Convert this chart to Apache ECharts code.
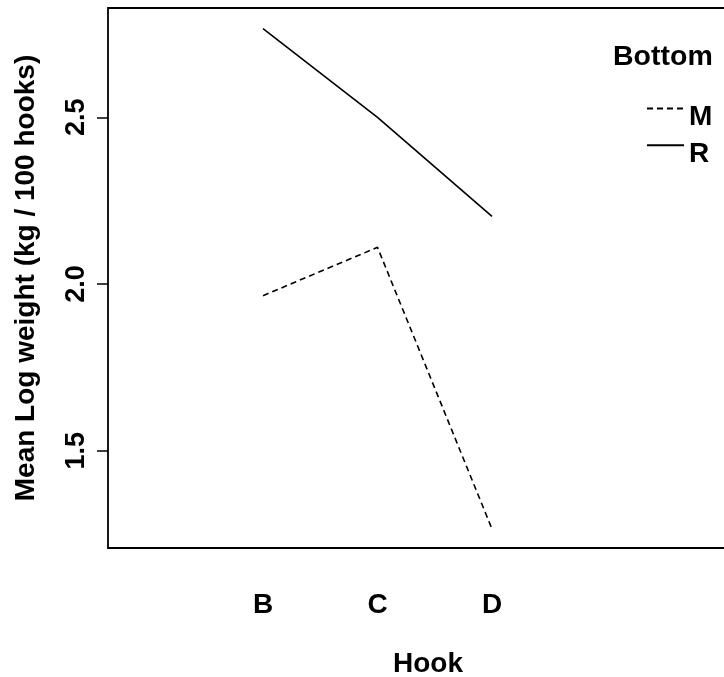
<!DOCTYPE html>
<html>
<head>
<meta charset="utf-8">
<script src="https://cdn.jsdelivr.net/npm/echarts@6/dist/echarts.min.js"></script>
<style>
  html, body { margin: 0; padding: 0; background: #fff; }
  #main { width: 724px; height: 677px; }
</style>
</head>
<body>
<div id="main"></div>
<script>
// data
var hooks = ['B', 'C', 'D'];
var bottomM = [1.965, 2.110, 1.265];
var bottomR = [2.766, 2.500, 2.203];
var yTicks = [1.5, 2.0, 2.5];
var xTicks = [1, 2, 3]; // positions of the hook levels

var font = 'Liberation Sans, Arial, Helvetica, sans-serif';

function toPoints(vals) {
  return vals.map(function (v, i) { return [xTicks[i], v]; });
}

var myChart = echarts.init(document.getElementById('main'));
myChart.setOption({
  animation: false,
  textStyle: { fontFamily: font, color: '#000' },
  title: {
    text: 'Bottom',
    left: 613,
    top: 43,
    padding: 0,
    textStyle: { fontFamily: font, fontSize: 28.5, fontWeight: 'bold', color: '#000' }
  },
  legend: {
    orient: 'vertical',
    left: 646,
    top: 103,
    padding: 0,
    itemWidth: 37,
    itemHeight: 14,
    itemGap: 8,
    data: ['M', 'R'],
    itemStyle: { opacity: 0 },
    formatter: '{t|{name}}',
    textStyle: {
      fontFamily: font, fontSize: 28, fontWeight: 'bold', color: '#000',
      rich: {
        t: { fontFamily: font, fontSize: 28, fontWeight: 'bold', color: '#000', padding: [18, 0, 0, 0] }
      }
    }
  },
  grid: {
    left: 108,
    top: 8,
    width: 640,
    height: 540,
    show: true,
    borderColor: '#000',
    borderWidth: 1.8,
    outerBoundsMode: 'none'
  },
  xAxis: {
    type: 'value',
    min: -0.354,
    max: 5.236,
    name: 'Hook',
    nameLocation: 'middle',
    nameGap: 102,
    nameTextStyle: { fontFamily: font, fontSize: 28, fontWeight: 'bold', color: '#000' },
    axisLine: { show: false, onZero: false },
    axisTick: { show: false },
    splitLine: { show: false },
    axisLabel: {
      customValues: xTicks,
      margin: 43,
      fontFamily: font, fontSize: 28, fontWeight: 'bold', color: '#000',
      formatter: function (v) { return hooks[Math.round(v) - 1] || ''; }
    }
  },
  yAxis: {
    type: 'value',
    min: 1.208,
    max: 2.828,
    name: 'Mean Log weight (kg / 100 hooks)',
    nameLocation: 'middle',
    nameGap: 68,
    nameMoveOverlap: false,
    nameTextStyle: { fontFamily: font, fontSize: 28, fontWeight: 'bold', color: '#000' },
    axisLine: { show: false, onZero: false },
    splitLine: { show: false },
    axisTick: {
      show: true,
      customValues: yTicks,
      length: 11,
      lineStyle: { color: '#000', width: 1.5 }
    },
    axisLabel: {
      customValues: yTicks,
      rotate: 90,
      margin: 18,
      fontFamily: font, fontSize: 27, fontWeight: 'bold', color: '#000',
      formatter: function (v) { return v.toFixed(1); }
    }
  },
  series: [{
    name: 'M',
    type: 'line',
    data: toPoints(bottomM),
    symbol: 'none',
    lineStyle: { color: '#000', width: 1.6, type: [6, 4] },
    itemStyle: { color: '#000' }
  }, {
    name: 'R',
    type: 'line',
    data: toPoints(bottomR),
    symbol: 'none',
    lineStyle: { color: '#000', width: 1.6, type: 'solid' },
    itemStyle: { color: '#000' }
  }]
});
</script>
</body>
</html>
